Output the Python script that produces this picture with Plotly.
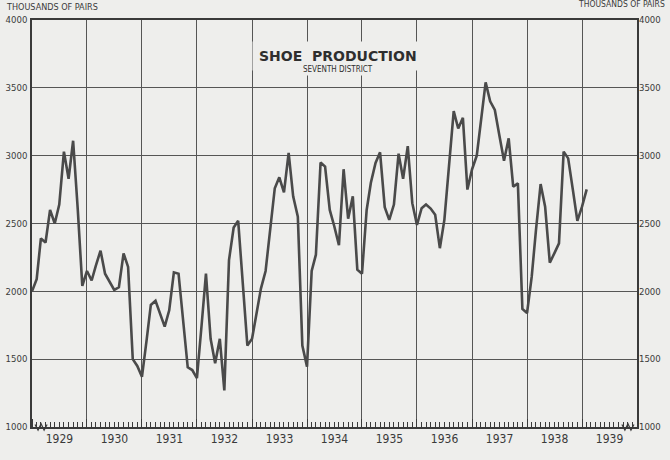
import plotly.graph_objects as go
import pandas as pd

# Monthly shoe production, Seventh District (thousands of pairs), Jan 1929 onward
values = [
    2000, 2090, 2390, 2360, 2600, 2500, 2640, 3030, 2830, 3110, 2600, 2040,  # 1929
    2150, 2080, 2190, 2300, 2130, 2070, 2010, 2030, 2280, 2180, 1500, 1450,  # 1930
    1370, 1640, 1900, 1930, 1830, 1740, 1860, 2140, 2130, 1780, 1440, 1420,  # 1931
    1360, 1750, 2130, 1650, 1470, 1650, 1270, 2230, 2470, 2520, 2060, 1600,  # 1932
    1650, 1850, 2020, 2150, 2450, 2760, 2840, 2730, 3020, 2700, 2550, 1600,  # 1933
    1445, 2150, 2270, 2950, 2920, 2600, 2480, 2340, 2900, 2535, 2700, 2160,  # 1934
    2130, 2600, 2800, 2946, 3025, 2620, 2527, 2640, 3015, 2830, 3070, 2650,  # 1935
    2490, 2613, 2640, 2610, 2564, 2318, 2527, 2930, 3328, 3200, 3279, 2750,  # 1936
    2900, 3000, 3263, 3540, 3400, 3337, 3150, 2963, 3128, 2771, 2796, 1870,  # 1937
    1840, 2108, 2450, 2791, 2624, 2211, 2280, 2354, 3030, 2980, 2750, 2520,  # 1938
    2624, 2752,                                                              # 1939
]
months = pd.date_range("1929-01-01", periods=len(values), freq="MS")
year_labels = [str(y) for y in range(1929, 1940)]
y_ticks = [1000, 1500, 2000, 2500, 3000, 3500, 4000]

BG = "#eeeeec"
INK = "#3a3a3a"
FONT = "Liberation Sans Narrow, DejaVu Sans Condensed, Arial Narrow, sans-serif"

fig = go.Figure()
fig.add_trace(go.Scatter(
    x=months, y=values, mode="lines",
    line=dict(color="#4a4a4a", width=2.6),
    hoverinfo="x+y", showlegend=False,
))
# invisible trace to activate the right-hand axis
fig.add_trace(go.Scatter(
    x=[months[0]], y=[values[0]], yaxis="y2", mode="markers",
    marker=dict(opacity=0), showlegend=False, hoverinfo="skip",
))

fig.update_layout(
    width=670, height=460,
    margin=dict(l=32, r=33, t=20, b=33),
    paper_bgcolor=BG, plot_bgcolor=BG,
    font=dict(family=FONT, color=INK, size=11),
    xaxis=dict(
        type="date", automargin=False,
        range=["1929-01-01", "1940-01-01"],
        tick0="1929-01-01", dtick="M12",
        tickformat="%Y", ticklabelmode="period",
        showgrid=True, gridcolor="#555555", gridwidth=1.2,
        ticks="inside", ticklen=8, tickcolor=INK,
        minor=dict(dtick="M1", ticks="inside", ticklen=5, tickcolor=INK, showgrid=False),
        showline=True, linecolor=INK, linewidth=1.5, mirror=True,
        tickfont=dict(size=12, family=FONT, color=INK),
        zeroline=False,
    ),
    yaxis=dict(
        range=[1000, 4000], tickvals=y_ticks, automargin=False,
        showgrid=True, gridcolor="#555555", gridwidth=1.2,
        showline=True, linecolor=INK, linewidth=1.5, mirror=True,
        ticks="", ticklabelstandoff=1, tickfont=dict(size=9.5, family=FONT, color=INK),
        zeroline=False, fixedrange=True,
    ),
    yaxis2=dict(
        range=[1000, 4000], tickvals=y_ticks, overlaying="y", side="right",
        automargin=False, ticklabelstandoff=1,
        showgrid=False, ticks="", tickfont=dict(size=9.5, family=FONT, color=INK),
        zeroline=False, showline=False,
    ),
)

# Title block (paper-coloured boxes hide the grid behind the text)
fig.add_annotation(
    x=0.506, y=0.912, xref="paper", yref="paper", xanchor="center", yanchor="middle",
    text="<b>SHOE  PRODUCTION</b>", showarrow=False,
    font=dict(size=14, family="DejaVu Sans, sans-serif", color="#2e2e2e"),
    bgcolor=BG, borderpad=6,
)
fig.add_annotation(
    x=0.506, y=0.879, xref="paper", yref="paper", xanchor="center", yanchor="middle",
    text="SEVENTH DISTRICT", showarrow=False,
    font=dict(size=8, family=FONT, color="#2e2e2e"),
    bgcolor=BG, borderpad=1,
)
# Axis unit labels
fig.add_annotation(
    x=-0.047, y=1.015, xref="paper", yref="paper", xanchor="left", yanchor="bottom",
    text="THOUSANDS OF PAIRS", showarrow=False,
    font=dict(size=9, family=FONT, color=INK),
)
fig.add_annotation(
    x=1.05, y=1.022, xref="paper", yref="paper", xanchor="right", yanchor="bottom",
    text="THOUSANDS OF PAIRS", showarrow=False,
    font=dict(size=8.5, family=FONT, color=INK),
)
# Axis-break zigzags at the bottom corners
fig.add_shape(type="path", xref="paper", yref="paper", layer="above",
              path="M 0.005 0.006 L 0.010 -0.008 L 0.015 0.008 L 0.020 -0.008 L 0.025 0.006",
              line=dict(color=INK, width=1.2))
fig.add_shape(type="path", xref="paper", yref="paper", layer="above",
              path="M 0.975 0.006 L 0.980 -0.008 L 0.985 0.008 L 0.990 -0.008 L 0.995 0.006",
              line=dict(color=INK, width=1.2))

fig.write_html(
    "out.html",
    config={"displayModeBar": False},
    post_script="document.body.style.margin='0';document.body.style.background='%s';" % BG,
)
